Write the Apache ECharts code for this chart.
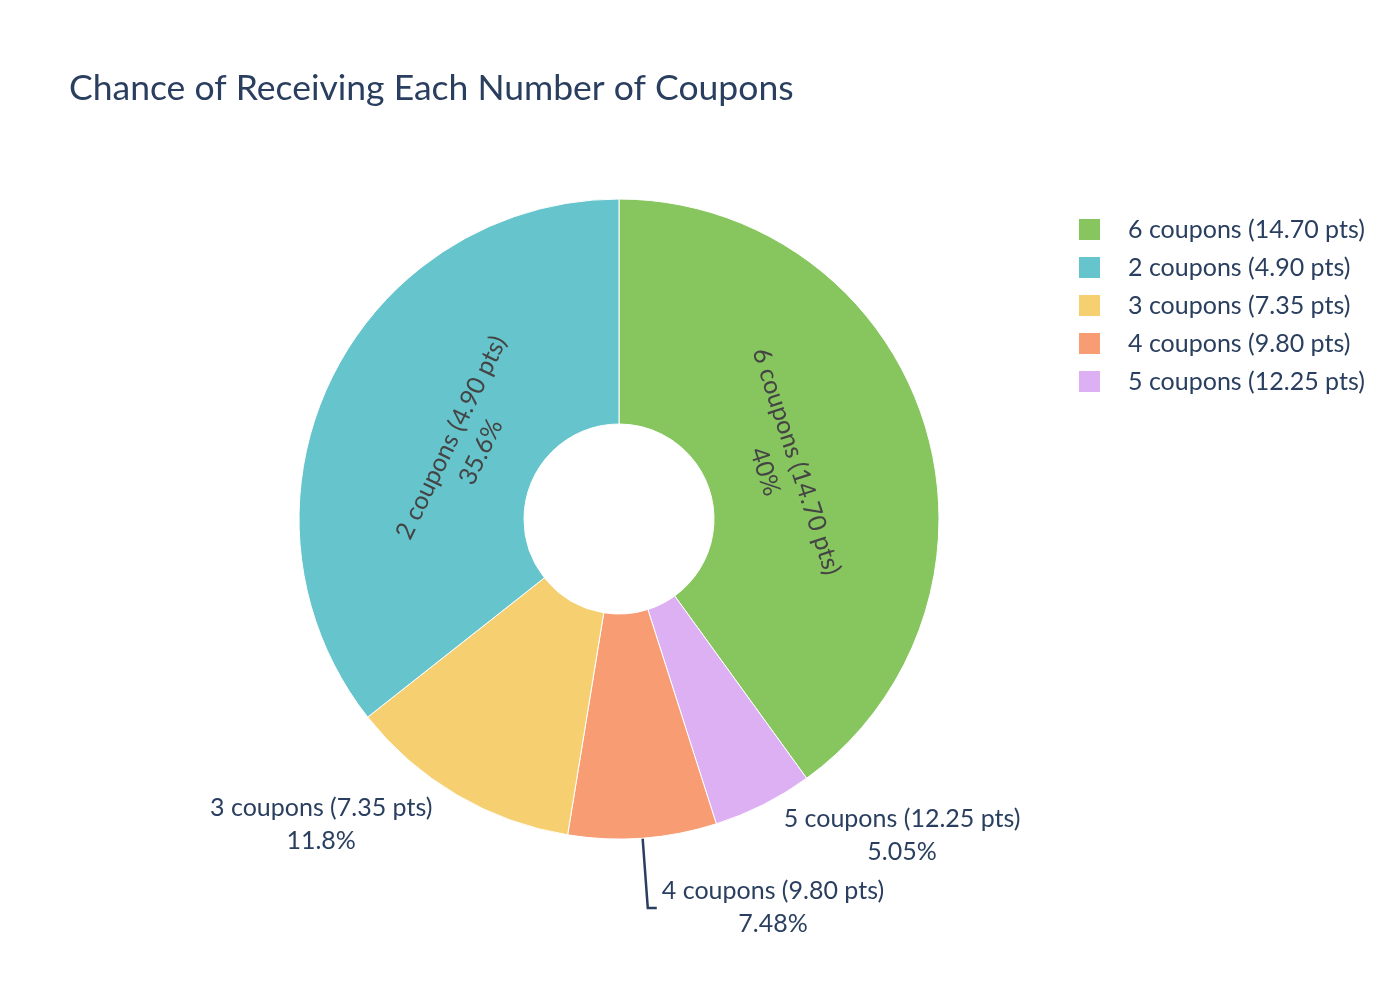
<!DOCTYPE html>
<html style="height: 100%">
<head>
    <meta charset="UTF-8">
    <script src="https://cdn.jsdelivr.net/npm/echarts@6/dist/echarts.min.js"></script>
</head>
<body style="margin: 0; background-color: #ffffff">
    <div id="paint" style="width: 1400px; height: 1000px;"></div>
<script>
    // slices in drawing order, clockwise from 12 o'clock
    var names = ['6 coupons (14.70 pts)', '5 coupons (12.25 pts)', '4 coupons (9.80 pts)', '3 coupons (7.35 pts)', '2 coupons (4.90 pts)'];
    var percents = [40, 5.05, 7.48, 11.8, 35.6];
    var colors = ['#87C55F', '#DCB0F2', '#F89C74', '#F6CF71', '#66C5CC'];
    var legendOrder = ['6 coupons (14.70 pts)', '2 coupons (4.90 pts)', '3 coupons (7.35 pts)', '4 coupons (9.80 pts)', '5 coupons (12.25 pts)'];
    var insideSlices = ['6 coupons (14.70 pts)', '2 coupons (4.90 pts)'];

    var font = 'Lato, "Open Sans", sans-serif';
    var textColor = '#2a3f5f';
    var pieCenter = [619, 519];
    var insideLabelR = 170;   // inside labels sit nearer the hole, like plotly

    // per-slice label settings for the outside ones
    var outside = {
        '5 coupons (12.25 pts)': {len: 34, len2: 0, line: false},
        '4 coupons (9.80 pts)': {len: 70, len2: 9, line: true},
        '3 coupons (7.35 pts)': {len: 34, len2: 2, line: false}
    };

    var pieData = names.map(function (n, i) {
        var item = {name: n, value: percents[i], itemStyle: {color: colors[i]}};
        if (insideSlices.indexOf(n) >= 0) {
            item.label = {position: 'inside', rotate: 'tangential', color: '#444444'};
        } else {
            var o = outside[n];
            item.label = {position: 'outside', color: textColor};
            item.labelLine = {show: o.line, length: o.len, length2: o.len2,
                lineStyle: {color: textColor, width: 2.5}};
        }
        return item;
    });

    var chart = echarts.init(document.getElementById('paint'));
    chart.setOption({
        backgroundColor: '#ffffff',
        animation: false,
        title: {
            text: 'Chance of Receiving Each Number of Coupons',
            left: 64,
            top: 66,
            textStyle: {fontFamily: font, fontSize: 35.5, fontWeight: 'normal', color: textColor}
        },
        legend: {
            orient: 'vertical',
            left: 1077,
            top: 217,
            padding: 0,
            data: legendOrder,
            icon: 'rect',
            itemWidth: 23,
            itemHeight: 23,
            itemGap: 13,
            textStyle: {fontFamily: font, fontSize: 25, lineHeight: 25, color: textColor, padding: [0, 0, 0, 22]}
        },
        series: [
            {
                type: 'pie',
                center: pieCenter,
                radius: [95, 320],
                startAngle: 90,
                clockwise: true,
                avoidLabelOverlap: false,
                itemStyle: {borderColor: '#ffffff', borderWidth: 1},
                label: {
                    fontFamily: font,
                    fontSize: 25,
                    formatter: function (p) {
                        return '{t|' + p.name + '}\n{t|' + p.value + '%}';
                    },
                    rich: {
                        t: {fontFamily: font, fontSize: 25, align: 'center', lineHeight: 33}
                    }
                },
                labelLayout: function (p) {
                    if (insideSlices.indexOf(names[p.dataIndex]) < 0) return {};
                    var r = p.labelRect;
                    var cx = r.x + r.width / 2 - pieCenter[0];
                    var cy = r.y + r.height / 2 - pieCenter[1];
                    var k = insideLabelR / Math.sqrt(cx * cx + cy * cy);
                    return {x: pieCenter[0] + cx * k, y: pieCenter[1] + cy * k};
                },
                emphasis: {disabled: true},
                data: pieData
            }
        ]
    });
</script>
</body>
</html>
